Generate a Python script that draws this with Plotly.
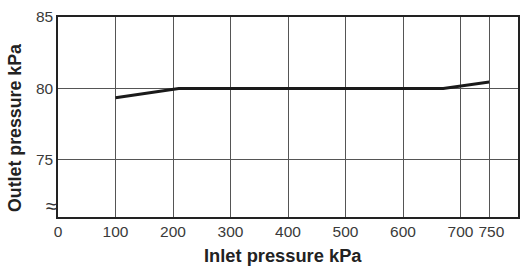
import plotly.graph_objects as go

inlet = [100, 210, 670, 750]
outlet = [79.35, 80.0, 80.0, 80.45]
x_ticks = [0, 100, 200, 300, 400, 500, 600, 700, 750]
x_labels = ["0", "100", "200", "300", "400", "500", "600", "700", "\u00a0750"]
y_ticks = [75, 80, 85]

fig = go.Figure()
fig.add_trace(go.Scatter(x=inlet, y=outlet, mode="lines",
                         line=dict(color="#1a1a1a", width=3), showlegend=False))

font = dict(family="Liberation Sans, Arial, sans-serif", color="#3a3a3a", size=15.5)
fig.update_layout(
    width=523, height=270,
    margin=dict(l=58, r=5, t=17, b=53, autoexpand=False),
    plot_bgcolor="white", paper_bgcolor="white",
    font=font,
    xaxis=dict(range=[0, 800], tickvals=x_ticks, ticktext=x_labels,
               tickangle=0, automargin=False,
               showgrid=True, gridcolor="#555", gridwidth=1,
               showline=True, linecolor="#222", linewidth=1.5, mirror=True,
               zeroline=False, ticks="", ticklen=0),
    yaxis=dict(range=[71, 85], tickvals=y_ticks, ticktext=[str(v) for v in y_ticks],
               automargin=False,
               showgrid=True, gridcolor="#555", gridwidth=1,
               showline=True, linecolor="#222", linewidth=1.5, mirror=True,
               zeroline=False, ticks="", ticklen=0),
)
fig.add_annotation(x=0, y=0.445, xref="paper", yref="paper", text="<b>Outlet pressure kPa</b>",
                   showarrow=False, textangle=-90, xanchor="center", yanchor="middle",
                   xshift=-43, font=dict(size=17.8, color="#222"))
fig.add_annotation(x=0.489, y=0, xref="paper", yref="paper", text="<b>Inlet pressure kPa</b>",
                   showarrow=False, xanchor="center", yanchor="middle",
                   yshift=-38, font=dict(size=18.3, color="#222"))
fig.add_annotation(x=0, y=71.8, xref="x", yref="y", text="≈", showarrow=False,
                   xanchor="right", xshift=1, font=dict(size=20, color="#333"))
fig.write_html("out.html")
